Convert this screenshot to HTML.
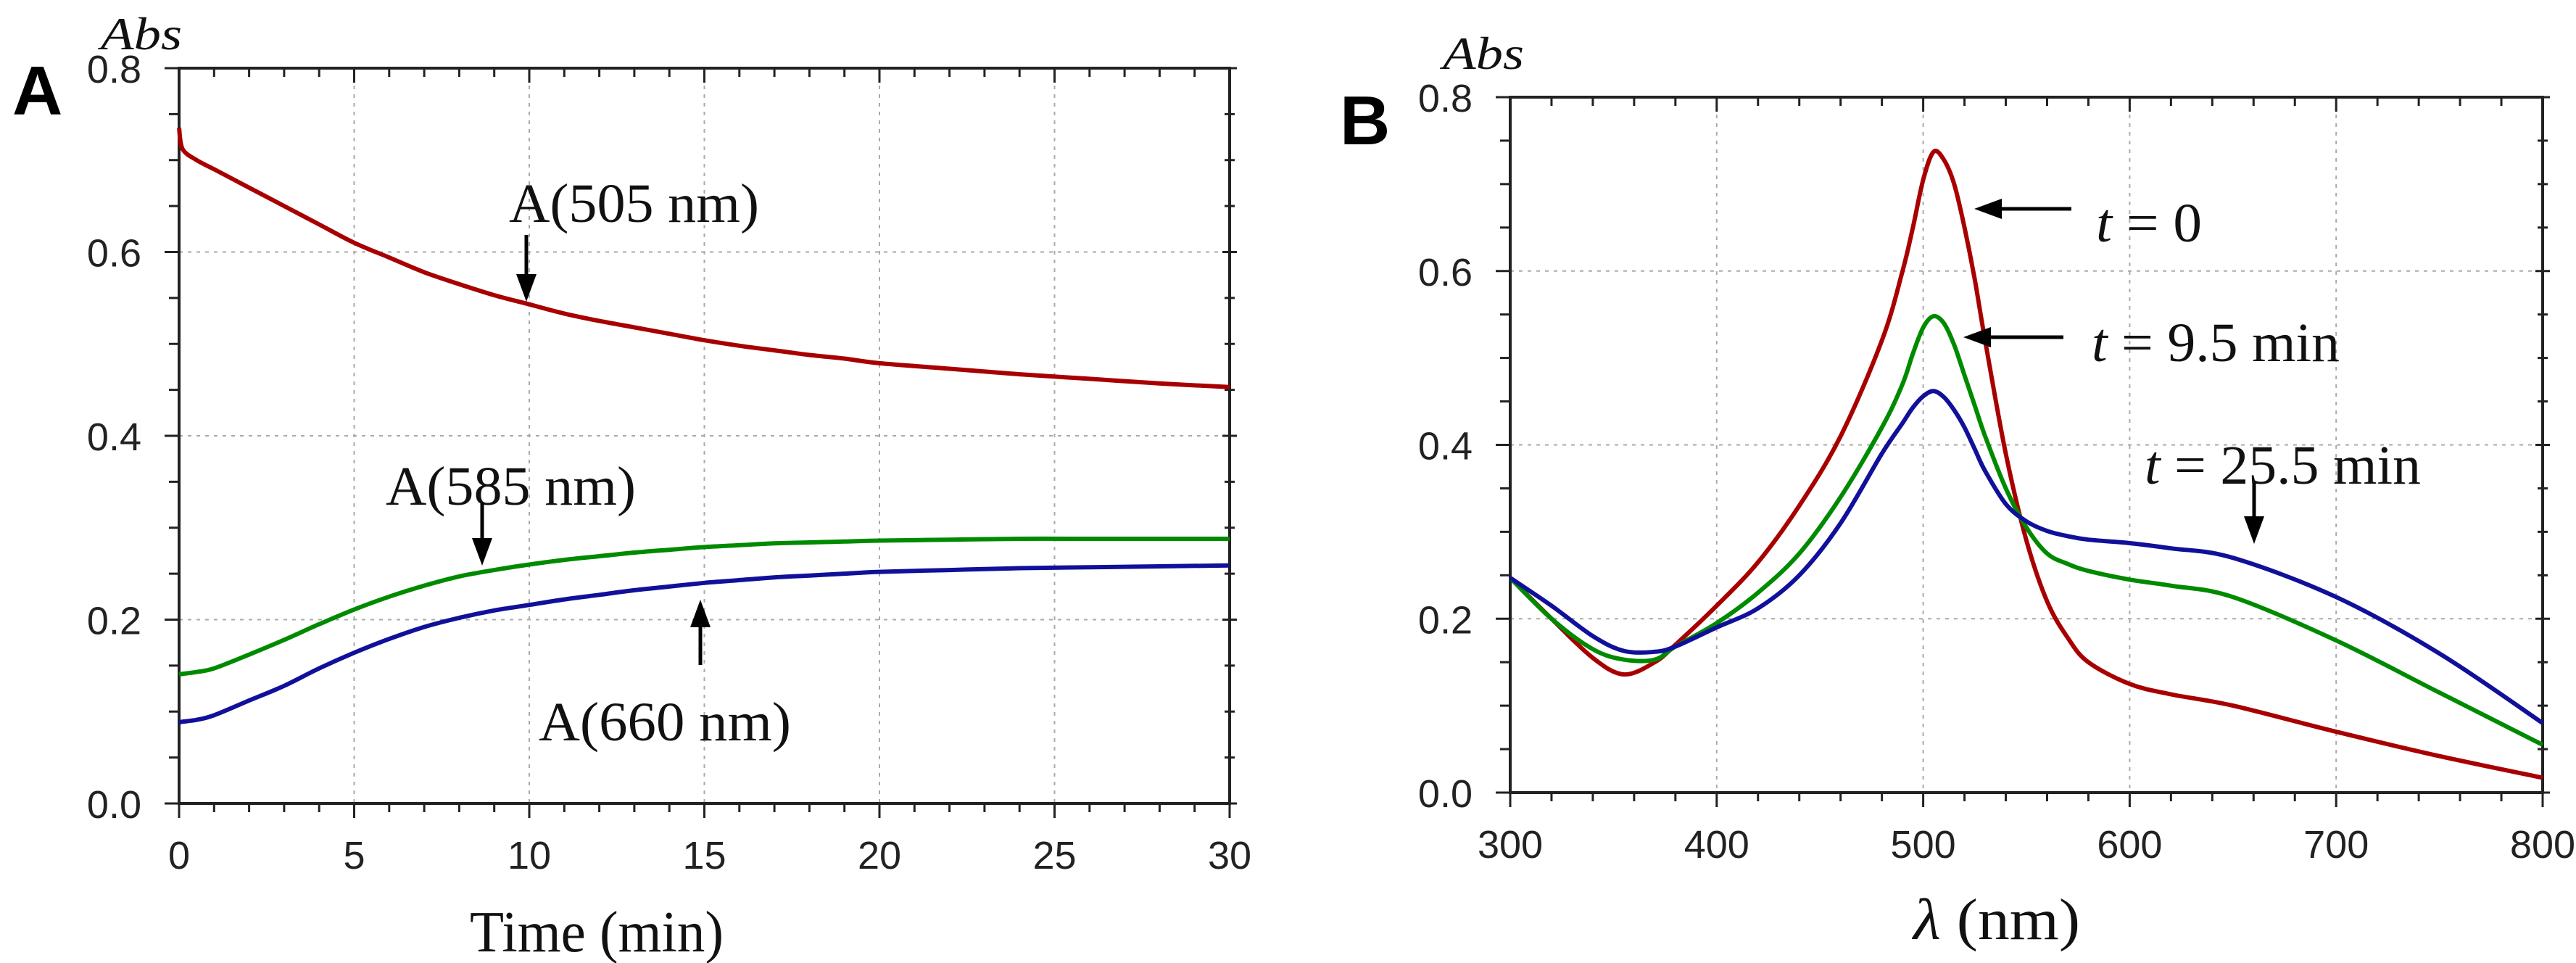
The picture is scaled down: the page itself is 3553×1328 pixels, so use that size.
<!DOCTYPE html>
<html><head><meta charset="utf-8"><style>
html,body{margin:0;padding:0;background:#fff;}
svg{display:block;}
</style></head><body>
<svg id="fig" width="3553" height="1328" viewBox="0 0 3553 1328" xmlns="http://www.w3.org/2000/svg">
<g id="pa"></g>
<g id="pb"></g>
</svg>
<script>
// Panel A data
const timeMin = [0,0.1,0.5,1,2,3,4,5,6,7,8,9,10,11,12,13,14,15,16,17,18,19,20,22,24,26,28,30];
const a505 = [0.735,0.712,0.700,0.690,0.670,0.650,0.630,0.610,0.594,0.578,0.565,0.553,0.543,0.533,0.525,0.518,0.511,0.504,0.498,0.493,0.488,0.484,0.479,0.473,0.467,0.462,0.457,0.453];
const a585 = [0.140,0.141,0.143,0.147,0.162,0.178,0.195,0.211,0.225,0.237,0.247,0.254,0.260,0.265,0.269,0.273,0.276,0.279,0.281,0.283,0.284,0.285,0.286,0.287,0.288,0.288,0.288,0.288];
const a660 = [0.088,0.089,0.091,0.096,0.112,0.128,0.147,0.164,0.179,0.192,0.202,0.210,0.216,0.222,0.227,0.232,0.236,0.240,0.243,0.246,0.248,0.250,0.252,0.254,0.256,0.257,0.258,0.259];
const aXTicks = [0,5,10,15,20,25,30];
const aYTicks = ["0.0","0.2","0.4","0.6","0.8"];
// Panel B data
const wavelength = [300,320,340,355,370,380,400,420,440,460,480,490,495,500,505,510,515,520,525,530,540,550,560,570,580,600,620,650,700,750,800];
const spec0 = [0.247,0.200,0.155,0.136,0.150,0.170,0.215,0.265,0.330,0.410,0.520,0.600,0.650,0.705,0.737,0.728,0.700,0.650,0.590,0.520,0.390,0.290,0.220,0.178,0.150,0.125,0.113,0.100,0.070,0.042,0.017];
const spec95 = [0.247,0.200,0.165,0.153,0.153,0.168,0.195,0.230,0.275,0.340,0.420,0.470,0.505,0.535,0.548,0.540,0.515,0.480,0.445,0.410,0.350,0.305,0.275,0.263,0.255,0.245,0.238,0.225,0.175,0.115,0.055];
const spec255 = [0.247,0.215,0.180,0.163,0.162,0.168,0.190,0.212,0.250,0.310,0.390,0.425,0.443,0.456,0.462,0.455,0.440,0.420,0.395,0.370,0.332,0.312,0.301,0.295,0.291,0.287,0.281,0.270,0.225,0.160,0.080];
const bXTicks = [300,400,500,600,700,800];
const bYTicks = ["0.0","0.2","0.4","0.6","0.8"];

const NS="http://www.w3.org/2000/svg";
function mk(parent,tag,attrs,text){const e=document.createElementNS(NS,tag);for(const k in attrs)e.setAttribute(k,attrs[k]);if(text!==undefined)e.textContent=text;parent.appendChild(e);return e;}

function panel(g,cfg){
  const {L,T,R,B,x0,x1,xMinor,xTicks,yTicks}=cfg;
  const sx=v=>L+(v-x0)/(x1-x0)*(R-L);
  const sy=v=>B-(v/0.8)*(B-T);
  xTicks.forEach(v=>{ if(v!==x0&&v!==x1){
    const l=mk(g,'line',{x1:sx(v),x2:sx(v),y1:T,y2:B,stroke:'#aaa','stroke-width':2,'stroke-dasharray':'5,7'});
    
    
  }});
  yTicks.forEach(t=>{const v=parseFloat(t); if(v>0&&v<0.8){
    const l=mk(g,'line',{x1:L,x2:R,y1:sy(v),y2:sy(v),stroke:'#aaa','stroke-width':2,'stroke-dasharray':'5,7'});
    
    
  }});
  const tk=mk(g,'g',{stroke:'#222','stroke-width':3});
  
  
  for(let v=x0;v<=x1+1e-9;v+=xMinor){
    const major=xTicks.some(m=>Math.abs(m-v)<1e-6);
    const len=major?20:12;
    mk(tk,'line',{x1:sx(v),x2:sx(v),y1:B,y2:B+len});
    mk(tk,'line',{x1:sx(v),x2:sx(v),y1:T,y2:T+len});
  }
  for(let i=0;i<=16;i++){
    const v=i*0.05, major=i%4===0, len=major?20:14;
    mk(tk,'line',{x1:L-len,x2:L,y1:sy(v),y2:sy(v)});
    mk(tk,'line',{x1:R-len/2,x2:R+len/2,y1:sy(v),y2:sy(v)});
  }
  const fr=mk(g,'rect',{x:L,y:T,width:R-L,height:B-T,fill:'none',stroke:'#222','stroke-width':4});
  
  
  xTicks.forEach(v=>{
    const t=mk(g,'text',{x:sx(v),y:B+90,'text-anchor':'middle','font-family':'Liberation Sans, sans-serif','font-size':54,fill:'#222'},String(v));
    
    
  });
  yTicks.forEach(s=>{
    const t=mk(g,'text',{x:L-52,y:sy(parseFloat(s))+20,'text-anchor':'end','font-family':'Liberation Sans, sans-serif','font-size':54,fill:'#222'},s);
    
    
  });
  return {sx,sy};
}
function series(g,xs,ys,sx,sy,color,name){
  const P=xs.map((x,i)=>[sx(x),sy(ys[i])]);
  let d='M'+P[0][0].toFixed(1)+','+P[0][1].toFixed(1);
  for(let i=0;i<P.length-1;i++){
    const p0=P[Math.max(0,i-1)],p1=P[i],p2=P[i+1],p3=P[Math.min(P.length-1,i+2)];
    const c1=[p1[0]+(p2[0]-p0[0])/6,p1[1]+(p2[1]-p0[1])/6];
    const c2=[p2[0]-(p3[0]-p1[0])/6,p2[1]-(p3[1]-p1[1])/6];
    d+=` C${c1[0].toFixed(1)},${c1[1].toFixed(1)} ${c2[0].toFixed(1)},${c2[1].toFixed(1)} ${p2[0].toFixed(1)},${p2[1].toFixed(1)}`;
  }
  const p=mk(g,'path',{d:d,fill:'none',stroke:color,'stroke-width':6,'stroke-linejoin':'round'});
  
  
}
function txt(g,x,y,s,size,w,name,opts){
  const a=Object.assign({x:x,y:y,'font-family':'Liberation Serif, serif','font-size':size,fill:'#111'},opts||{});
  if(w) {a.textLength=w; a.lengthAdjust='spacingAndGlyphs';}
  const t=mk(g,'text',a,s);
  
  
  return t;
}
function arrow(g,x1,y1,x2,y2,name){
  const ag=mk(g,'g',{});
  
  
  const dx=x2-x1,dy=y2-y1,len=Math.hypot(dx,dy),ux=dx/len,uy=dy/len,h=38,w=14;
  const bx=x2-ux*h,by=y2-uy*h;
  mk(ag,'line',{x1:x1,y1:y1,x2:bx,y2:by,stroke:'#000','stroke-width':5});
  mk(ag,'polygon',{points:`${x2},${y2} ${bx-uy*w},${by+ux*w} ${bx+uy*w},${by-ux*w}`,fill:'#000'});
}

const ga=document.getElementById('pa');
const A=panel(ga,{L:247,T:94,R:1696,B:1108,x0:0,x1:30,xMinor:1,xTicks:aXTicks,yTicks:aYTicks});
series(ga,timeMin,a505,A.sx,A.sy,'#a80000','series-a505');
series(ga,timeMin,a585,A.sx,A.sy,'#008a00','series-a585');
series(ga,timeMin,a660,A.sx,A.sy,'#10109a','series-a660');
const la=mk(ga,'text',{x:17,y:158,'font-family':'Liberation Sans, DejaVu Sans, sans-serif','font-size':96,'font-weight':'bold',fill:'#000'},'A');


txt(ga,139,68,'Abs',64,112,'y-axis-title-a',{'font-style':'italic'});
txt(ga,648,1312,'Time (min)',80,350,'x-axis-title-a');
txt(ga,702,306,'A(505 nm)',76,345,'label-a505');
txt(ga,532,696,'A(585 nm)',76,345,'label-a585');
txt(ga,743,1021,'A(660 nm)',76,348,'label-a660');
arrow(ga,726,324,726,416,'arrow-a505');
arrow(ga,665,694,665,780,'arrow-a585');
arrow(ga,966,917,966,827,'arrow-a660');

const gb=document.getElementById('pb');
const Bp=panel(gb,{L:2083,T:134,R:3507,B:1093,x0:300,x1:800,xMinor:20,xTicks:bXTicks,yTicks:bYTicks});
series(gb,wavelength,spec0,Bp.sx,Bp.sy,'#a80000','spectrum-t0');
series(gb,wavelength,spec95,Bp.sx,Bp.sy,'#008a00','spectrum-t9-5');
series(gb,wavelength,spec255,Bp.sx,Bp.sy,'#10109a','spectrum-t25-5');
const lb=mk(gb,'text',{x:1848,y:199,'font-family':'Liberation Sans, DejaVu Sans, sans-serif','font-size':96,'font-weight':'bold',fill:'#000'},'B');


txt(gb,1990,95,'Abs',64,112,'y-axis-title-b',{'font-style':'italic'});
const lt=txt(gb,2639,1295,'',80,230,'x-axis-title-b');
mk(lt,'tspan',{'font-style':'italic'},'λ');
mk(lt,'tspan',{},'  (nm)');
const t0=txt(gb,2891,333,'',76,146,'label-t0');
mk(t0,'tspan',{'font-style':'italic'},'t');mk(t0,'tspan',{},' = 0');
const t1=txt(gb,2885,498,'',76,342,'label-t9-5');
mk(t1,'tspan',{'font-style':'italic'},'t');mk(t1,'tspan',{},' = 9.5 min');
const t2=txt(gb,2958,667,'',76,381,'label-t25-5');
mk(t2,'tspan',{'font-style':'italic'},'t');mk(t2,'tspan',{},' = 25.5 min');
arrow(gb,2857,288,2723,288,'arrow-t0');
arrow(gb,2846,465,2708,465,'arrow-t9-5');
arrow(gb,3109,666,3109,750,'arrow-t25-5');
</script>
</body></html>
